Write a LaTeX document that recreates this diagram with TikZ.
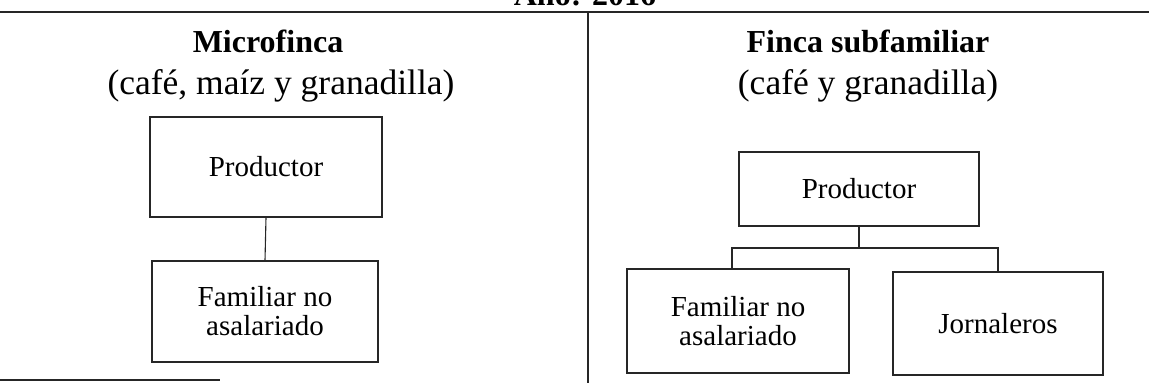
\documentclass[tikz,border=0pt]{standalone}
\usepackage{fontspec}
\setmainfont{Liberation Serif}
\begin{document}
\begin{tikzpicture}[x=1pt,y=-1pt,
  rulestyle/.style={line width=1.2pt, draw=black!85},
  orgbox/.style={draw=black!85, line width=1.1pt, inner sep=0pt, align=center,
    font=\fontsize{29}{29}\selectfont},
  link/.style={draw=black!85, line width=1.1pt},
  headbold/.style={anchor=base, inner sep=0pt, font=\fontsize{32}{32}\selectfont\bfseries},
  headsub/.style={anchor=base, inner sep=0pt, font=\fontsize{35.5}{35.5}\selectfont}]
  \useasboundingbox (0,0) rectangle (1149,383);
  \clip (0,0) rectangle (1149,383);

  % title row (mostly cut off at the top edge)
  \node[headbold] (title) at (585,5) {Año: 2016};

  % table rules
  \coordinate (tl) at (0,12);
  \coordinate (tr) at (1149,12);
  \coordinate (dtop) at (588,12);
  \coordinate (dbot) at (588,383);
  \coordinate (bl) at (0,380);
  \coordinate (br) at (220,380);
  \draw[rulestyle] (tl) -- (tr);
  \draw[rulestyle] (dtop) -- (dbot);
  \draw[rulestyle] (bl) -- (br);

  % left column: microfinca
  \node[headbold] (h1) at (268,52) {Microfinca};
  \node[headsub] (s1) at (281,94) {(café, maíz y granadilla)};
  \node[orgbox, minimum width=232pt, minimum height=100pt] (p1) at (266,167) {Productor};
  \node[orgbox, minimum width=226pt, minimum height=101pt] (f1) at (265,311.5) {Familiar no\\asalariado};
  \draw[link] (p1.south) -- (f1.north);

  % right column: finca subfamiliar
  \node[headbold] (h2) at (868,52) {Finca subfamiliar};
  \node[headsub] (s2) at (868,94) {(café y granadilla)};
  \node[orgbox, minimum width=240pt, minimum height=74pt] (p2) at (859,189) {Productor};
  \node[orgbox, minimum width=222pt, minimum height=104pt] (f2) at (738,321) {Familiar no\\asalariado};
  \node[orgbox, minimum width=210pt, minimum height=103pt] (jo) at (998,323.5) {Jornaleros};
  \coordinate (bus) at (859,248);
  \draw[link] (p2.south) -- (bus);
  \draw[link] ([xshift=-6pt]f2.north) |- (bus) -| (jo.north);
\end{tikzpicture}
\end{document}
